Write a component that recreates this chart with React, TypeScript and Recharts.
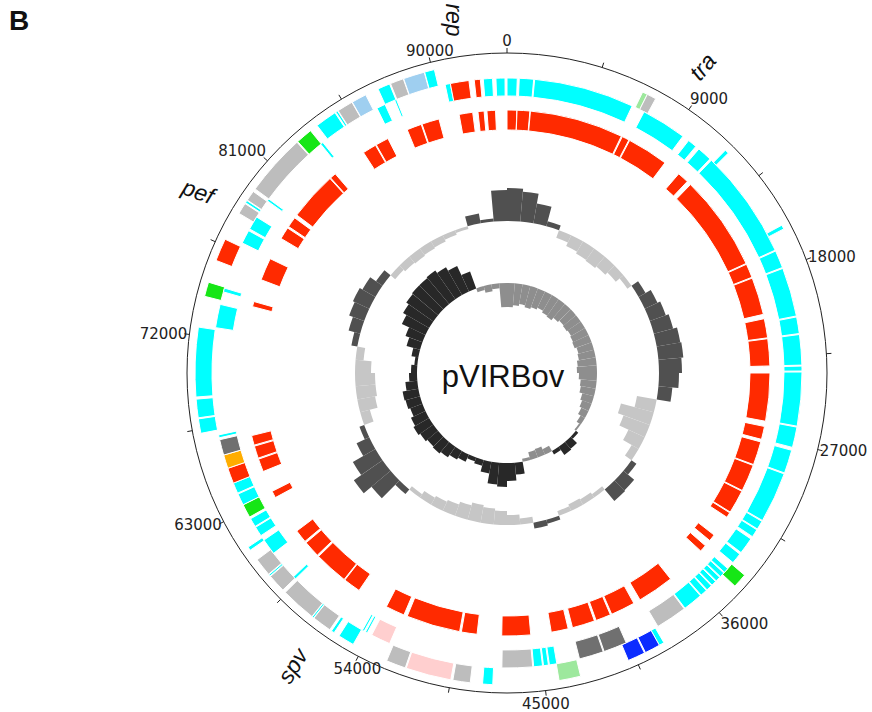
import React from "react";
import {
  PieChart,
  Pie,
  Cell,
  RadialBarChart,
  RadialBar,
  PolarAngleAxis,
  PolarRadiusAxis,
} from "recharts";

const WIDTH = 872;
const HEIGHT = 712;
const CX = 507;
const CY = 373;
const PLASMID_LENGTH = 93600;
const SCALE_RADIUS = 320;

const COLORS: Record<string, string> = {
  cyan: "#00ffff",
  red: "#ff2a00",
  gray: "#bdbdbd",
  darkGray: "#707070",
  green: "#16e616",
  lightGreen: "#9de89d",
  lightBlue: "#9fcff0",
  pink: "#ffcfcf",
  blue: "#0c2cff",
  orange: "#ffad00",
};

type Feature = [number, number, string];

// outermost gene track
const outerTrack: Feature[] = [
  [6700, 6950, "lightGreen"], [6950, 7400, "gray"],
  [11550, 11750, "cyan"], [16050, 16250, "cyan"],
  [33900, 34600, "green"],
  [38950, 39200, "cyan"], [39200, 39950, "blue"], [40000, 40850, "blue"],
  [43250, 44300, "lightGreen"],
  [47480, 47970, "cyan"],
  [48560, 49400, "gray"],
  [49500, 51700, "pink"],
  [51750, 52700, "gray"],
  [54480, 55270, "cyan"],
  [55550, 55700, "cyan"],
  [55800, 56740, "gray"], [56760, 56840, "cyan"], [56860, 58580, "gray"],
  [58740, 59620, "gray"], [59650, 59730, "cyan"], [59760, 60640, "gray"],
  [61200, 61380, "cyan"],
  [67300, 68000, "cyan"], [68050, 68950, "cyan"], [69050, 72400, "cyan"],
  [73900, 74600, "green"],
  [75700, 76800, "red"],
  [78200, 78750, "gray"], [78800, 78920, "cyan"], [78950, 79450, "gray"],
  [79600, 82600, "gray"],
  [82650, 83450, "green"],
  [83850, 84900, "cyan"], [84950, 85050, "cyan"],
  [85080, 85850, "gray"], [85870, 86600, "lightBlue"],
  [87250, 87850, "cyan"], [87900, 88550, "gray"],
  [88570, 89600, "lightBlue"], [89620, 90100, "cyan"],
];

// second gene track
const middleTrack: Feature[] = [
  [0, 520, "cyan"], [620, 1350, "cyan"], [1400, 6530, "cyan"],
  [7200, 9520, "cyan"], [9880, 10350, "cyan"], [10550, 11300, "cyan"],
  [11400, 17000, "cyan"], [17050, 17950, "cyan"], [18000, 20500, "cyan"],
  [20550, 21400, "cyan"], [21450, 23000, "cyan"], [23050, 23300, "cyan"],
  [23350, 26100, "cyan"], [26150, 27200, "cyan"], [27350, 28550, "cyan"],
  [28600, 31200, "cyan"], [31250, 31700, "cyan"], [31750, 32160, "cyan"],
  [32300, 33150, "cyan"], [33250, 33800, "cyan"],
  [34200, 34450, "cyan"], [34500, 34750, "cyan"], [34800, 35050, "cyan"],
  [35100, 35350, "cyan"], [35400, 35700, "cyan"], [35750, 36100, "cyan"],
  [36150, 37150, "cyan"],
  [37200, 38800, "gray"],
  [40600, 41800, "darkGray"], [41850, 43100, "darkGray"],
  [44270, 44650, "cyan"], [44700, 44950, "cyan"], [45000, 45450, "cyan"],
  [45500, 47060, "gray"],
  [52900, 53900, "pink"],
  [54150, 54250, "cyan"], [54330, 54430, "cyan"],
  [58700, 58850, "cyan"],
  [60400, 61230, "cyan"],
  [61500, 62000, "cyan"], [62050, 62500, "cyan"],
  [62600, 63300, "green"],
  [63300, 63900, "cyan"], [63950, 64500, "cyan"],
  [64500, 65300, "red"],
  [65300, 66000, "orange"],
  [66000, 66800, "darkGray"],
  [66900, 67050, "cyan"],
  [72500, 73700, "cyan"],
  [74350, 74550, "cyan"],
  [77000, 77700, "cyan"], [77800, 78500, "cyan"],
  [79480, 79600, "cyan"],
  [83420, 83560, "cyan"],
  [86800, 87250, "cyan"],
  [87780, 87880, "cyan"],
  [90450, 90720, "cyan"], [90720, 91670, "red"],
  [91940, 92250, "red"],
  [92400, 92870, "cyan"], [93040, 93500, "cyan"],
];

// homology track
const innerTrack: Feature[] = [
  [0, 560, "red"], [570, 1300, "red"], [1330, 6700, "red"],
  [6760, 7180, "red"], [7230, 9600, "red"],
  [10600, 11250, "red"], [11500, 17000, "red"],
  [17050, 17850, "red"], [17900, 20050, "red"], [20300, 21400, "red"],
  [21450, 23000, "red"], [23400, 26150, "red"], [26450, 27200, "red"],
  [27350, 28700, "red"], [28750, 30300, "red"], [30350, 31700, "red"],
  [31750, 32050, "red"],
  [33290, 33690, "red"], [34070, 34470, "red"],
  [36800, 38900, "red"],
  [39300, 40700, "red"], [40780, 41650, "red"], [41750, 43050, "red"],
  [43300, 44280, "red"],
  [45450, 47100, "red"],
  [48500, 49400, "red"],
  [49500, 52600, "red"], [52800, 53900, "red"],
  [55700, 56700, "red"], [56750, 58700, "red"], [58800, 59750, "red"],
  [59850, 60600, "red"],
  [62850, 63250, "red"],
  [64480, 65230, "red"], [65290, 66000, "red"], [66060, 66620, "red"],
  [74000, 74300, "red"],
  [75600, 76900, "red"],
  [78200, 78900, "red"], [79000, 79600, "red"],
  [79800, 82600, "red"], [82650, 83000, "red"],
  [85000, 85800, "red"], [85850, 86600, "red"],
  [87800, 88650, "red"], [88700, 89700, "red"],
  [90870, 91650, "red"], [91950, 92300, "red"], [92460, 92950, "red"],
];

// GC content deviation, 72 windows of 1300 bp
const gcContent = [
  31, 33, 30, 20, 5, -8, -12, -14, -15, -13, -10, -5,
  8, 14, 17, 20, 24, 25, 23, 20, 14, -20, -34, -28,
  -18, -8, 6, 14, 15, -4, -6, -7, -5, 4, 6, -6,
  -10, -14, -16, -18, -15, -12, -10, -8, -4, 6, 25, 35,
  26, 14, 5, -10, -18, -20, -20, -16, -8, 6, 12, 16,
  18, 15, 8, -6, -8, -9, -8, -7, -5, -3, 10, 3,
];

// GC skew, same windows
const gcSkew = [
  -24, -24, -22, -20, -22, -20, -18, -20, -21, -18, -16, -17,
  -16, -17, -18, -16, -17, -19, -20, -18, -16, -15, -12, -10,
  -8, -5, -2, 3, 9, 10, 4, -6, -9, -8, -3, 12,
  18, 24, 22, 12, 6, 4, 8, 10, 13, 15, 14, 16,
  18, 16, 13, 15, 16, 12, 8, 6, 3, 7, 14, 18,
  26, 30, 33, 34, 34, 35, 32, 28, 18, -4, -7, -5,
];

const scaleTicks = [
  0, 4500, 9000, 13500, 18000, 22500, 27000, 31500, 36000, 40500, 45000,
  49500, 54000, 58500, 63000, 67500, 72000, 76500, 81000, 85500, 90000,
];

const tracks = [
  { name: "outer", features: outerTrack, inner: 295, outer: 312 },
  { name: "middle", features: middleTrack, inner: 277, outer: 295 },
  { name: "inner", features: innerTrack, inner: 243, outer: 263 },
];

function toSlices(features: Feature[]) {
  const sorted = [...features].sort((a, b) => a[0] - b[0]);
  const out: { value: number; fill: string; gap: boolean }[] = [];
  let pos = 0;
  sorted.forEach(([start, end, color]) => {
    if (start > pos) out.push({ value: start - pos, fill: "none", gap: true });
    const s = Math.max(start, pos);
    if (end > s) out.push({ value: end - s, fill: COLORS[color], gap: false });
    pos = Math.max(pos, end);
  });
  if (pos < PLASMID_LENGTH) out.push({ value: PLASMID_LENGTH - pos, fill: "none", gap: true });
  return out;
}

// bars run from the baseline (0) to the value, both directions
const toRange = (v: number, i: number) => ({ bin: i, raw: v, value: v >= 0 ? [0, v] : [v, 0] });
const gcData = gcContent.map(toRange);
const skewData = gcSkew.map(toRange);

const layer: React.CSSProperties = { position: "absolute", left: 0, top: 0 };

function ScaleTick(props: any) {
  const { payload } = props;
  if (payload.value % 9000 !== 0) return <g />;
  // clockwise from the top, same as the axis
  const theta = (payload.value / PLASMID_LENGTH) * 2 * Math.PI;
  const ux = Math.sin(theta);
  const uy = -Math.cos(theta);
  const anchor = ux > 0.5 ? "start" : ux < -0.5 ? "end" : "middle";
  const baseline = uy < -0.5 ? "auto" : uy > 0.5 ? "hanging" : "central";
  return (
    <text
      x={CX + (SCALE_RADIUS + 2) * ux}
      y={CY + (SCALE_RADIUS + 7) * uy}
      textAnchor={anchor}
      dominantBaseline={baseline}
      fontSize={15}
      fontFamily="'DejaVu Sans', sans-serif"
      fill="#222"
    >
      {payload.value}
    </text>
  );
}

const labelStyle = (left: number, top: number, rot: number): React.CSSProperties => ({
  position: "absolute",
  left,
  top,
  transform: `translate(-50%, -50%) rotate(${rot}deg)`,
  fontFamily: "'Liberation Sans', Arial, sans-serif",
  fontStyle: "italic",
  fontSize: 23,
  color: "#111",
  whiteSpace: "nowrap",
  lineHeight: 1,
});

export default function App() {
  return (
    <div
      style={{
        position: "absolute",
        left: 0,
        top: 0,
        width: WIDTH,
        height: HEIGHT,
        background: "#fff",
        overflow: "hidden",
      }}
    >
      <div style={layer}>
        <PieChart width={WIDTH} height={HEIGHT} margin={{ top: 0, right: 0, bottom: 0, left: 0 }}>
          {tracks.map((t) => {
            const slices = toSlices(t.features);
            return (
              <Pie
                key={t.name}
                data={slices}
                dataKey="value"
                cx={CX}
                cy={CY}
                innerRadius={t.inner}
                outerRadius={t.outer}
                startAngle={90}
                endAngle={-270}
                isAnimationActive={false}
                strokeWidth={1}
              >
                {slices.map((s, i) => (
                  <Cell key={i} fill={s.fill} stroke={s.gap ? "none" : "#fff"} />
                ))}
              </Pie>
            );
          })}
        </PieChart>
      </div>

      <div style={layer}>
        <RadialBarChart
          width={WIDTH}
          height={HEIGHT}
          cx={CX}
          cy={CY}
          innerRadius={112}
          outerRadius={192}
          data={gcData}
          layout="centric"
          startAngle={90}
          endAngle={-270}
          barCategoryGap={0}
          margin={{ top: 0, right: 0, bottom: 0, left: 0 }}
        >
          <PolarAngleAxis type="category" dataKey="bin" tick={false} axisLine={false} tickLine={false} />
          <PolarRadiusAxis type="number" domain={[-40, 40]} tick={false} axisLine={false} />
          <RadialBar dataKey="value" isAnimationActive={false}>
            {gcData.map((d, i) => (
              <Cell key={i} fill={d.raw >= 0 ? "#505050" : "#c6c6c6"} />
            ))}
          </RadialBar>
        </RadialBarChart>
      </div>

      <div style={layer}>
        <RadialBarChart
          width={WIDTH}
          height={HEIGHT}
          cx={CX}
          cy={CY}
          innerRadius={50}
          outerRadius={130}
          data={skewData}
          layout="centric"
          startAngle={90}
          endAngle={-270}
          barCategoryGap={0}
          margin={{ top: 0, right: 0, bottom: 0, left: 0 }}
        >
          <PolarAngleAxis type="category" dataKey="bin" tick={false} axisLine={false} tickLine={false} />
          <PolarRadiusAxis type="number" domain={[-40, 40]} tick={false} axisLine={false} />
          <RadialBar dataKey="value" isAnimationActive={false}>
            {skewData.map((d, i) => (
              <Cell key={i} fill={d.raw >= 0 ? "#282828" : "#8e8e8e"} />
            ))}
          </RadialBar>
        </RadialBarChart>
      </div>

      <div style={layer}>
        <RadialBarChart
          width={WIDTH}
          height={HEIGHT}
          cx={CX}
          cy={CY}
          innerRadius={300}
          outerRadius={SCALE_RADIUS}
          data={[{ v: 0 }]}
          startAngle={90}
          endAngle={-270}
          margin={{ top: 0, right: 0, bottom: 0, left: 0 }}
        >
          <PolarAngleAxis
            type="number"
            domain={[0, PLASMID_LENGTH]}
            allowDataOverflow
            ticks={scaleTicks}
            axisLineType="circle"
            stroke="#222"
            tickSize={5}
            tick={<ScaleTick />}
          />
          <PolarRadiusAxis type="category" tick={false} axisLine={false} />
          <RadialBar dataKey="v" fill="none" isAnimationActive={false} />
        </RadialBarChart>
      </div>

      <div
        style={{
          position: "absolute",
          left: CX - 4,
          top: CY + 3,
          transform: "translate(-50%, -50%)",
          fontFamily: "'Liberation Sans', Arial, sans-serif",
          fontSize: 31,
          color: "#111",
          lineHeight: 1,
        }}
      >
        pVIRBov
      </div>

      <div style={labelStyle(453, 20, 90)}>rep</div>
      <div style={labelStyle(703, 67, -50)}>tra</div>
      <div style={labelStyle(198, 192, 20)}>pef</div>
      <div style={labelStyle(293, 666, -58)}>spv</div>

      <div
        style={{
          position: "absolute",
          left: 9,
          top: 7,
          fontFamily: "'Liberation Sans', Arial, sans-serif",
          fontWeight: "bold",
          fontSize: 28,
          color: "#111",
          lineHeight: 1,
        }}
      >
        B
      </div>
    </div>
  );
}
